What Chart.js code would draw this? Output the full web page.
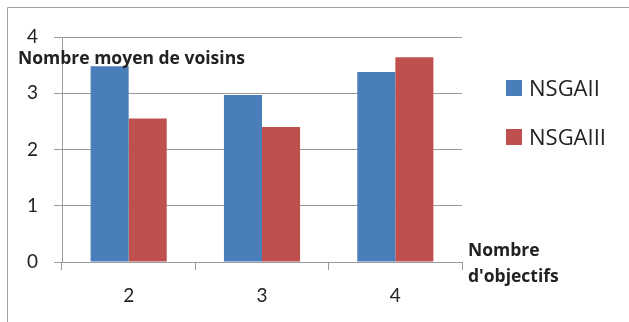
<!DOCTYPE html>
<html>
<head>
<meta charset="utf-8">
<script src="https://cdn.jsdelivr.net/npm/chart.js@4"></script>
<style>
  html, body { margin: 0; padding: 0; background: #ffffff; }
  #wrap { width: 629px; height: 322px; position: relative; }
</style>
</head>
<body>
<div id="wrap"><canvas id="chart" width="629" height="322"></canvas></div>
<script>
// Number of objectives on the x axis
const categories = ['2', '3', '4'];
// Average number of neighbours per algorithm
const nsgaII = [3.48, 2.97, 3.38];
const nsgaIII = [2.55, 2.40, 3.64];
const seriesNames = ['NSGAII', 'NSGAIII'];
const yTicks = [0, 1, 2, 3, 4];

const FONT = 'Lato, "Open Sans", sans-serif';
const TITLE_FONT = '"Open Sans", Lato, sans-serif';
const TEXT = '#222222';
const GRID = '#9a9a9a';

// White background with the frame lines along the top and left edges
const framePlugin = {
  id: 'frame',
  beforeDraw(chart) {
    const ctx = chart.ctx;
    ctx.save();
    ctx.fillStyle = '#ffffff';
    ctx.fillRect(0, 0, chart.width, chart.height);
    ctx.strokeStyle = '#a0a0a0';
    ctx.lineWidth = 1;
    ctx.beginPath();
    ctx.moveTo(7.5, chart.height);
    ctx.lineTo(7.5, 7.5);
    ctx.lineTo(chart.width, 7.5);
    ctx.stroke();
    ctx.restore();
  }
};

// Axis titles and the legend on the right
const labelsPlugin = {
  id: 'labels',
  afterDraw(chart) {
    const ctx = chart.ctx;
    ctx.save();
    ctx.fillStyle = TEXT;
    ctx.textBaseline = 'alphabetic';
    ctx.textAlign = 'left';
    ctx.font = 'bold 17.5px ' + TITLE_FONT;
    ctx.fillText('Nombre moyen de voisins', 18, 64);
    ctx.fillText('Nombre', 468, 256);
    ctx.fillText("d'objectifs", 468, 282);

    ctx.font = '22px ' + TITLE_FONT;
    const rows = [80, 129];
    chart.data.datasets.forEach((ds, i) => {
      const top = rows[i];
      ctx.fillStyle = ds.backgroundColor;
      ctx.fillRect(506, top, 16, 16);
      ctx.fillStyle = TEXT;
      ctx.fillText(ds.label, 529, top + 15.5);
    });
    ctx.restore();
  }
};

new Chart(document.getElementById('chart'), {
  type: 'bar',
  data: {
    labels: categories,
    datasets: [
      { label: seriesNames[0], data: nsgaII, backgroundColor: '#4a7ebb' },
      { label: seriesNames[1], data: nsgaIII, backgroundColor: '#c0504d' }
    ]
  },
  options: {
    responsive: false,
    animation: false,
    devicePixelRatio: 1,
    layout: { padding: { top: 37, right: 167, left: 0, bottom: 0 } },
    datasets: {
      bar: { categoryPercentage: 0.571, barPercentage: 1.0, borderWidth: 0 }
    },
    plugins: {
      legend: { display: false },
      title: { display: false },
      tooltip: { enabled: false }
    },
    scales: {
      x: {
        offset: true,
        grid: {
          offset: true,
          drawOnChartArea: false,
          drawTicks: true,
          tickLength: 8,
          color: GRID
        },
        border: { display: true, color: GRID },
        ticks: {
          font: { family: FONT, size: 19 },
          color: TEXT,
          padding: 14,
          maxRotation: 0
        },
        afterFit(scale) { scale.height = 60; }
      },
      y: {
        min: 0,
        max: 4,
        afterBuildTicks(scale) { scale.ticks = yTicks.map(v => ({ value: v })); },
        grid: { color: GRID, tickLength: 8, drawTicks: true },
        border: { display: true, color: GRID },
        ticks: {
          font: { family: FONT, size: 19 },
          color: TEXT,
          padding: 16
        },
        afterFit(scale) { scale.width = 62; }
      }
    }
  },
  plugins: [framePlugin, labelsPlugin]
});
</script>
</body>
</html>
